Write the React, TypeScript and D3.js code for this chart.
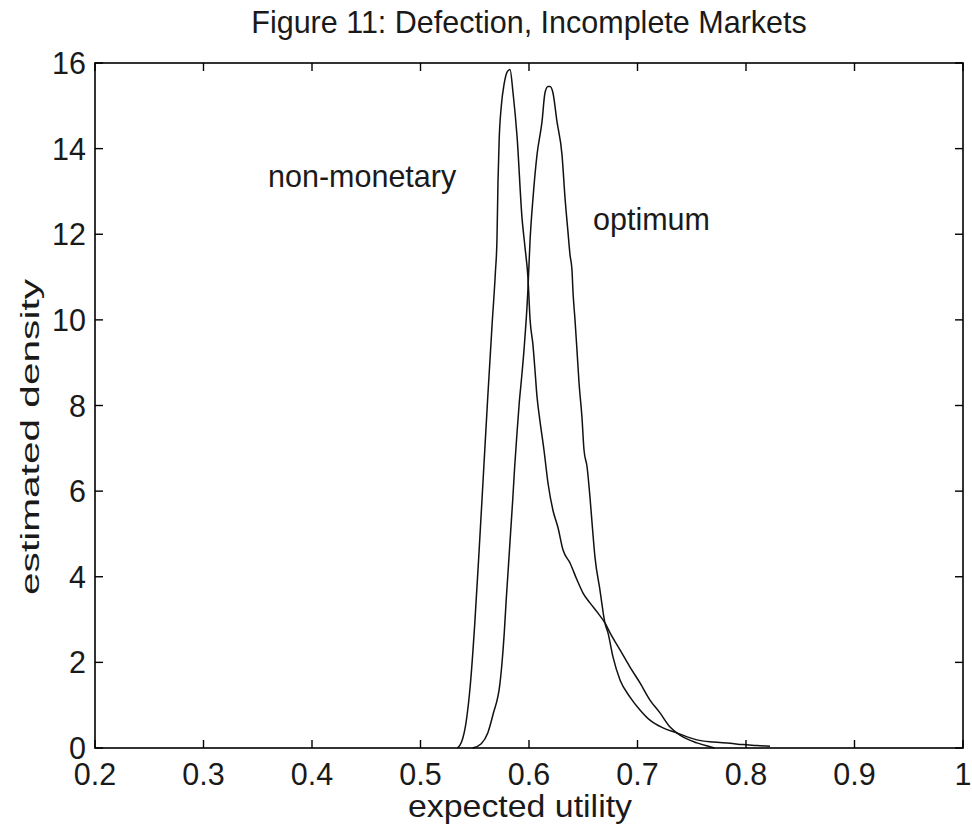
import React from "react";
import * as d3 from "d3";

// Kernel density estimates of expected utility
const nonMonetaryX = [
  0.534, 0.538, 0.542, 0.546, 0.55, 0.554, 0.558, 0.562, 0.566, 0.569, 0.5705, 0.5714, 0.5725,
  0.5745, 0.577, 0.58, 0.5825, 0.5853, 0.589, 0.5935, 0.5963, 0.599, 0.601, 0.6037, 0.6055,
  0.6074, 0.61, 0.6138, 0.6175, 0.622, 0.6267, 0.6313, 0.6378, 0.6442, 0.6498, 0.6562, 0.6636,
  0.67, 0.6747, 0.6839, 0.6931, 0.7023, 0.7115, 0.7207, 0.73, 0.7392, 0.7548, 0.7668, 0.771,
];
const nonMonetaryY = [
  0, 0.15, 0.6, 1.5, 2.9, 4.6, 6.4, 8.2, 9.9, 11.1, 11.9, 13.2, 14.2, 15.0, 15.5, 15.8, 15.85,
  15.3, 14.28, 12.4, 11.7, 11.0, 10.0, 9.4, 8.83, 8.2, 7.66, 6.96, 6.19, 5.56, 5.15, 4.63, 4.32,
  3.93, 3.62, 3.39, 3.15, 2.92, 2.69, 2.29, 1.89, 1.52, 1.12, 0.82, 0.49, 0.3, 0.12, 0.03, 0,
];

const optimumX = [
  0.548, 0.556, 0.562, 0.567, 0.5733, 0.575, 0.5772, 0.579, 0.581, 0.583, 0.585, 0.5868, 0.5887,
  0.591, 0.593, 0.5954, 0.599, 0.6009, 0.6037, 0.6074, 0.612, 0.6147, 0.6175, 0.6194, 0.6221,
  0.6258, 0.6304, 0.6332, 0.6359, 0.6378, 0.6396, 0.6406, 0.6424, 0.6442, 0.6461, 0.6488, 0.6507,
  0.6535, 0.6562, 0.6581, 0.6608, 0.6654, 0.67, 0.6728, 0.6774, 0.6839, 0.6931, 0.7023, 0.7115,
  0.7235, 0.7364, 0.7548, 0.7696, 0.7853, 0.7972, 0.81, 0.8221,
];
const optimumY = [
  0, 0.1, 0.35, 0.8, 1.52, 1.95, 2.69, 3.46, 4.23, 5.02, 5.8, 6.57, 7.27, 8.06, 8.6, 9.3, 10.7,
  11.82, 12.85, 13.86, 14.63, 15.3, 15.45, 15.45, 15.3, 14.63, 13.86, 12.85, 12.06, 11.52, 11.17,
  10.63, 10.0, 9.3, 8.53, 7.73, 6.96, 6.57, 5.86, 5.26, 4.46, 3.69, 2.92, 2.69, 2.13, 1.59, 1.19,
  0.89, 0.65, 0.47, 0.35, 0.19, 0.14, 0.11, 0.08, 0.06, 0.04,
];

const xTicks = [0.2, 0.3, 0.4, 0.5, 0.6, 0.7, 0.8, 0.9, 1];
const yTicks = [0, 2, 4, 6, 8, 10, 12, 14, 16];

const title = "Figure 11: Defection, Incomplete Markets";
const xLabel = "expected utility";
const yLabel = "estimated density";
const seriesLabels = ["non-monetary", "optimum"];

const W = 972;
const H = 836;
const plot = { left: 95, right: 963, top: 63, bottom: 748 };
const FONT = "'Liberation Sans', Arial, Helvetica, sans-serif";
const FS = 30.5;
const TICK = 8;
const INK = "#1a1a1a";

export default function App() {
  const x = d3.scaleLinear().domain([0.2, 1]).range([plot.left, plot.right]);
  const y = d3.scaleLinear().domain([0, 16]).range([plot.bottom, plot.top]);

  const line = d3
    .line<[number, number]>()
    .x((d) => x(d[0]))
    .y((d) => y(d[1]))
    .curve(d3.curveMonotoneX);

  const nonMonetary = nonMonetaryX.map((v, i) => [v, nonMonetaryY[i]] as [number, number]);
  const optimum = optimumX.map((v, i) => [v, optimumY[i]] as [number, number]);

  const fmt = (v: number) => (v === 1 ? "1" : d3.format(".1f")(v));

  return (
    <svg
      width={W}
      height={H}
      style={{ position: "absolute", left: 0, top: 0, background: "#fff" }}
      fontFamily={FONT}
    >
      <rect x={0} y={0} width={W} height={H} fill="#fff" />

      {/* density curves */}
      <g fill="none" stroke="#111" strokeWidth={1.5}>
        <path d={line(nonMonetary) || ""} />
        <path d={line(optimum) || ""} />
      </g>

      {/* axes box */}
      <rect
        x={plot.left}
        y={plot.top}
        width={plot.right - plot.left}
        height={plot.bottom - plot.top}
        fill="none"
        stroke="#000"
        strokeWidth={1.6}
      />

      {/* ticks on all four sides, pointing inward */}
      <g stroke="#000" strokeWidth={1.4}>
        {xTicks.map((t) => (
          <g key={`xt${t}`}>
            <line x1={x(t)} x2={x(t)} y1={plot.bottom} y2={plot.bottom - TICK} />
            <line x1={x(t)} x2={x(t)} y1={plot.top} y2={plot.top + TICK} />
          </g>
        ))}
        {yTicks.map((t) => (
          <g key={`yt${t}`}>
            <line x1={plot.left} x2={plot.left + TICK} y1={y(t)} y2={y(t)} />
            <line x1={plot.right} x2={plot.right - TICK} y1={y(t)} y2={y(t)} />
          </g>
        ))}
      </g>

      {/* tick labels */}
      <g fontSize={FS} fill={INK}>
        {xTicks.map((t) => (
          <text key={`xl${t}`} x={x(t)} y={785} textAnchor="middle">
            {fmt(t)}
          </text>
        ))}
        {yTicks.map((t) => (
          <text key={`yl${t}`} x={86} y={y(t)} textAnchor="end" dominantBaseline="central">
            {t}
          </text>
        ))}
      </g>

      {/* titles */}
      <text x={(plot.left + plot.right) / 2} y={33} textAnchor="middle" fontSize={FS} fill={INK}>
        {title}
      </text>
      <text
        x={520}
        y={817}
        textAnchor="middle"
        fontSize={FS}
        fill={INK}
        textLength={224}
        lengthAdjust="spacingAndGlyphs"
      >
        {xLabel}
      </text>
      <text
        transform={`translate(39, 437) rotate(-90)`}
        textAnchor="middle"
        fontSize={25}
        fill={INK}
        textLength={316}
        lengthAdjust="spacingAndGlyphs"
      >
        {yLabel}
      </text>

      {/* series annotations */}
      <text x={268} y={187} fontSize={FS} fill={INK}>
        {seriesLabels[0]}
      </text>
      <text x={593} y={230} fontSize={FS} fill={INK}>
        {seriesLabels[1]}
      </text>
    </svg>
  );
}
